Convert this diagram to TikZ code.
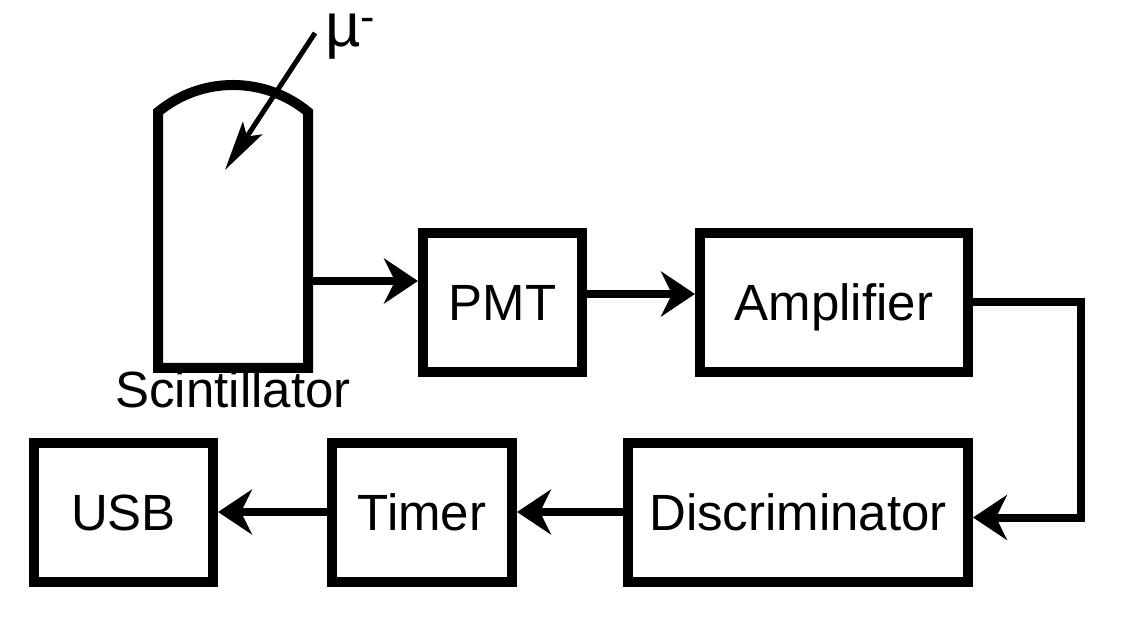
\documentclass[tikz,border=0pt]{standalone}
\usepackage{fontspec}
\setmainfont{Liberation Sans}
\usetikzlibrary{arrows.meta,positioning}
\tikzset{
    flowptr/.style={
        -{Stealth[length=0.68cm,width=0.9cm,inset=0.22cm]},
        line width=0.16cm
    },
    muptr/.style={
        -{Stealth[length=1cm,width=0.46cm,inset=0.2cm]},
        line width=0.1cm
    },
    blockbox/.style={
        draw,
        line width=0.2cm,
        minimum height=2.78cm,
        text height=0.73cm,
        text depth=0pt,
        font=\fontsize{29}{34}\selectfont
    }
}

\begin{document}
\begin{tikzpicture}[
        ]
        \useasboundingbox (0,0) rectangle (22.5,12.5);
        % draw scintillator
        \draw[line width=0.2cm] (3.16,5.14) -- (3.16,10.26) arc[start angle=129.6, end angle=50.4, radius=2.354cm] -- (6.16,5.14) -- cycle;
        \node[font=\fontsize{29}{34}\selectfont, anchor=base] (scint) at (4.66,4.34) {Scintillator};
        \coordinate (scintout) at (6.16,6.88);

        % draw blocks
        \node[blockbox, minimum width=3.18cm] (pmt) at (10.05,6.455) {PMT};
        \node[blockbox, minimum width=5.36cm, right=2.16cm of pmt] (amp) {Amplifier};
        \node[blockbox, minimum width=6.8cm] (disc) at (15.96,2.26) {Discriminator};
        \node[blockbox, minimum width=3.6cm, left=2.12cm of disc] (timer) {Timer};
        \node[blockbox, minimum width=3.58cm, left=2.18cm of timer] (usb) {USB};

        % draw signal path
        \draw[flowptr] (scintout) -- (scintout -| pmt.west);
        \draw[flowptr] ([yshift=0.165cm]pmt.east) -- ([yshift=0.165cm]amp.west);
        \draw[flowptr] (amp.east) -- ++(2.15,0) |- ([yshift=-0.11cm]disc.east);
        \draw[flowptr] (disc.west) -- (timer.east);
        \draw[flowptr] (timer.west) -- (usb.east);

        % draw incoming muon
        \node[font=\fontsize{35}{40}\selectfont, inner sep=0pt, anchor=base west] (muon) at (6.5,11.56) {µ\textsuperscript{-}};
        \coordinate (mustart) at (6.3,11.84);
        \coordinate (muhit) at (4.5,9.1);
        \draw[muptr] (mustart) -- (muhit);
    \end{tikzpicture}
\end{document}
